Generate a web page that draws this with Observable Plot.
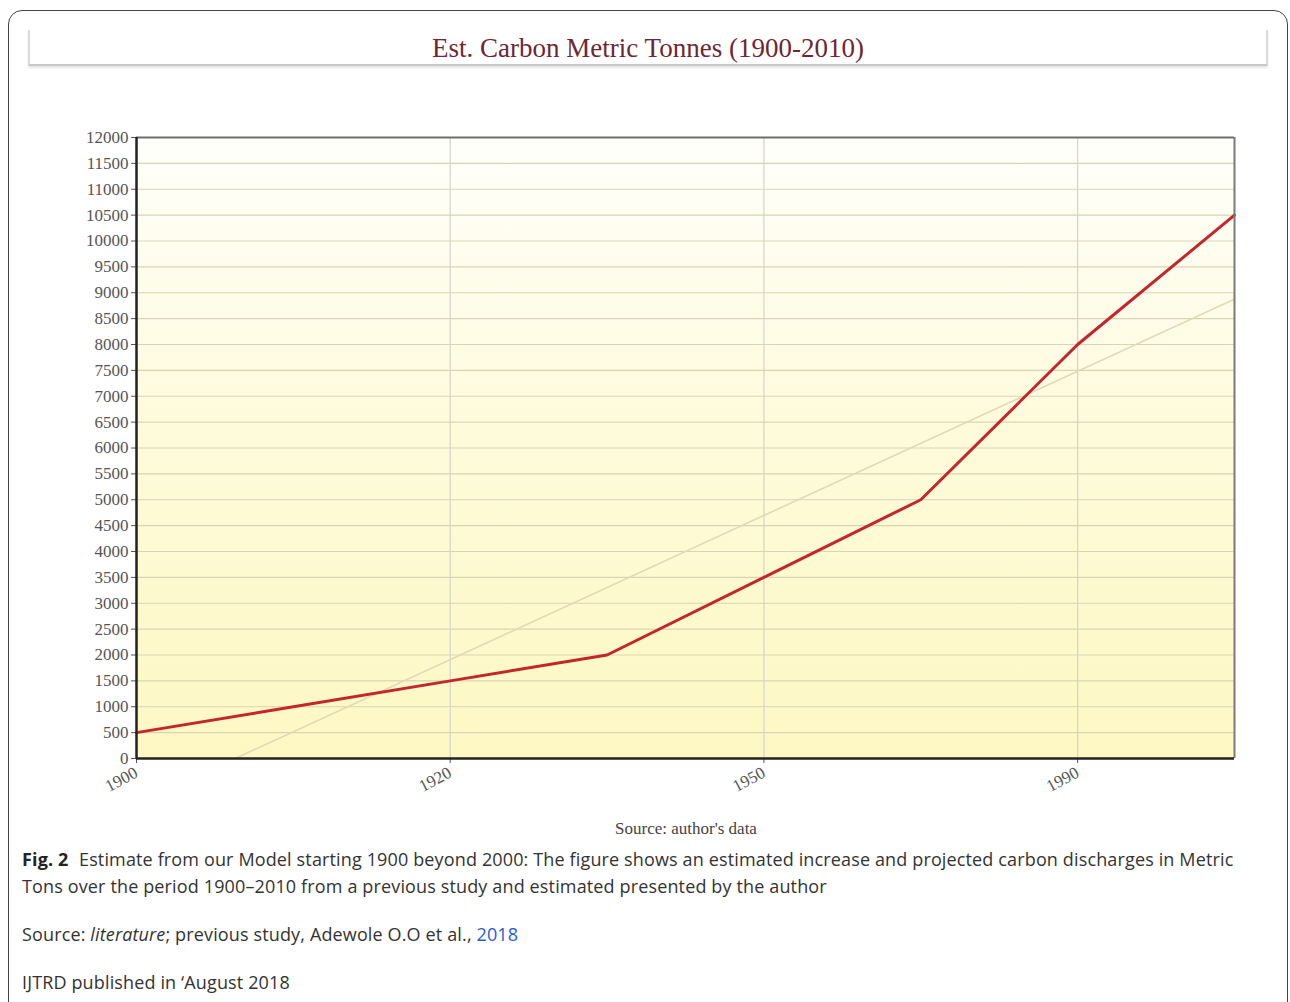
<!DOCTYPE html>
<html>
<head>
<meta charset="utf-8">
<script src="https://cdn.jsdelivr.net/npm/d3@7"></script>
<script src="https://cdn.jsdelivr.net/npm/@observablehq/plot@0.6"></script>
<style>
  html, body { margin: 0; padding: 0; background: #fff; width: 1290px; height: 1002px; overflow: hidden; position: relative; }
  #card { position: absolute; left: 8px; top: 10px; width: 1280px; height: 1010px; border: 1px solid #444; border-radius: 14px; box-sizing: border-box; }
  #titlebox { position: absolute; left: 28px; top: 30px; width: 1240px; height: 36px; box-sizing: border-box;
    border-left: 2px solid #dcdcdc; border-right: 2px solid #dcdcdc; border-bottom: 2px solid #c8c8c8;
    box-shadow: 0 2px 2px #e6e6e6; text-align: center; font-family: "Liberation Serif", serif; font-size: 27px; color: #6e2635; line-height: 36px; }
  #chart { position: absolute; left: 0; top: 100px; }
  #source { position: absolute; left: 0; width: 1372px; top: 819px; text-align: center; font-family: "Liberation Serif", serif; font-size: 17px; color: #444; }
  .cap { position: absolute; left: 22px; font-family: "Open Sans", sans-serif; font-size: 18px; color: #333; letter-spacing: 0.14px; line-height: 27px; white-space: nowrap; }
  .cap b { color: #222; }
  .cap a { color: #2a5bd7; text-decoration: none; }
</style>
</head>
<body>
<div id="card"></div>
<div id="titlebox">Est. Carbon Metric Tonnes (1900-2010)</div>
<div id="chart"></div>
<div id="source">Source: author's data</div>
<div class="cap" style="top:846px;"><b>Fig. 2</b></div>
<div class="cap" style="top:846px; left:79px;">Estimate from our Model starting 1900 beyond 2000: The figure shows an estimated increase and projected carbon discharges in Metric</div>
<div class="cap" style="top:873px;">Tons over the period 1900–2010 from a previous study and estimated presented by the author</div>
<div class="cap" style="top:921px;">Source: <i>literature</i>; previous study, Adewole O.O et al., <a>2018</a></div>
<div class="cap" style="top:969px;">IJTRD published in ‘August 2018</div>
<script>
// Data: 8 equally spaced points
const pointIndex = [0, 1, 2, 3, 4, 5, 6, 7];
const carbonTonnes = [500, 1000, 1500, 2000, 3500, 5000, 8000, 10500];
const xTickIndex = [0, 2, 4, 6];
const xTickLabels = ["1900", "1920", "1950", "1990"];
const yTicks = d3.range(0, 12001, 500);

const data = pointIndex.map((i, k) => ({i, v: carbonTonnes[k]}));
const labelOf = new Map(xTickIndex.map((t, k) => [t, xTickLabels[k]]));

const W = 1290, H = 740;
const chart = Plot.plot({
  width: W, height: H,
  marginLeft: 136, marginRight: 56, marginTop: 37, marginBottom: 82,
  style: {fontFamily: "Liberation Serif, serif", fontSize: "17px", color: "#555", background: "transparent"},
  x: {domain: [0, 7], ticks: xTickIndex, tickFormat: d => labelOf.get(d), tickRotate: -28, tickSize: 5, tickPadding: 8, label: null},
  y: {domain: [0, 12000], ticks: yTicks, tickFormat: d => String(d), tickSize: 5, tickPadding: 3, label: null},
  marks: [
    Plot.frame({fill: "url(#bgGrad)", stroke: null}),
    Plot.ruleY(yTicks, {stroke: "#d9d5b4", strokeWidth: 1.2}),
    Plot.ruleX(xTickIndex, {stroke: "#d4d4cc", strokeWidth: 1.2}),
    Plot.linearRegressionY(data, {x: "i", y: "v", ci: 0, stroke: "#e3d8b8", strokeWidth: 1.6, clip: true}),
    Plot.line(data, {x: "i", y: "v", stroke: "#c3262c", strokeWidth: 3}),
    Plot.ruleY([12000], {stroke: "#6e6e6e", strokeWidth: 2}),
    Plot.ruleX([7], {stroke: "#7a7a7a", strokeWidth: 2}),
    Plot.ruleY([0], {stroke: "#222", strokeWidth: 2.5}),
    Plot.ruleX([0], {stroke: "#222", strokeWidth: 2.5})
  ]
});
const defs = document.createElementNS("http://www.w3.org/2000/svg", "defs");
defs.innerHTML = `<linearGradient id="bgGrad" x1="0" y1="0" x2="0" y2="1">
  <stop offset="0" stop-color="#fffffb"/>
  <stop offset="0.45" stop-color="#fefbdc"/>
  <stop offset="1" stop-color="#fdf8c2"/>
</linearGradient>`;
chart.insertBefore(defs, chart.firstChild);
document.getElementById("chart").appendChild(chart);
</script>
</body>
</html>
